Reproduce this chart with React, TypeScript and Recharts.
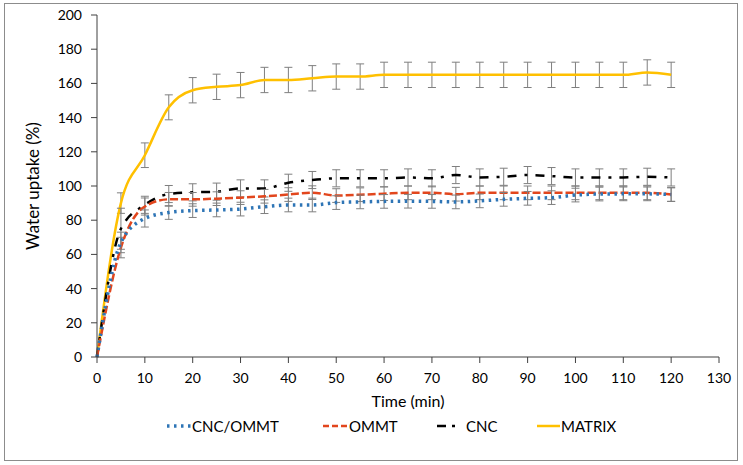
import React from "react";
import {
  LineChart,
  Line,
  XAxis,
  YAxis,
  ErrorBar,
  Legend,
  Label,
} from "recharts";

// Time points (min)
const time = [0, 5, 10, 15, 20, 25, 30, 35, 40, 45, 50, 55, 60, 65, 70, 75, 80, 85, 90, 95, 100, 105, 110, 115, 120];

// Water uptake (%) per sample
const cncOmmt = [0, 67, 81, 84.5, 85.6, 86, 86.5, 87.9, 88.9, 88.9, 90.3, 90.7, 91, 91.1, 91, 90.7, 91.3, 92.2, 92.8, 93.2, 94.7, 95.3, 95.4, 95.4, 95];
const ommt = [0, 64, 88, 92.2, 92.2, 92.6, 93.2, 94, 95, 96.1, 94.4, 94.9, 95.5, 96, 96, 95.2, 96, 96, 96, 96, 96, 96, 96, 96, 95];
const cnc = [0, 75, 89, 95.3, 96.3, 96.7, 98.6, 98.6, 101.9, 103.5, 104.5, 104.5, 104.5, 105, 104.5, 106.4, 105, 105.4, 106.4, 105.8, 105, 105, 105, 105.4, 105];
const matrix = [0, 90, 118, 146, 156, 158, 159, 162, 162, 163, 164, 164, 165, 165, 165, 165, 165, 165, 165, 165, 165, 165, 165, 166.4, 165];

// Standard deviations
const cncOmmtErr = [0, 6, 5, 4, 4, 4, 4, 4, 4, 4, 4, 4, 4, 4, 4, 4, 4, 4, 4, 4, 4, 4, 4, 4, 4];
const ommtErr = [0, 6, 5, 4, 4, 4, 4, 4, 4, 4, 4, 4, 4, 4, 4, 4, 4, 4, 4, 4, 4, 4, 4, 4, 4];
const cncErr = [0, 12, 5, 5, 5, 5, 5, 5, 5, 5, 5, 5, 5, 5, 5, 5, 5, 5, 5, 5, 5, 5, 5, 5, 5];
const matrixErr = [0, 6, 7.2, 7.3, 7.4, 7.4, 7.4, 7.4, 7.4, 7.4, 7.4, 7.4, 7.4, 7.4, 7.4, 7.4, 7.4, 7.4, 7.4, 7.4, 7.4, 7.4, 7.4, 7.4, 7.4];

const xTicks = [0, 10, 20, 30, 40, 50, 60, 70, 80, 90, 100, 110, 120, 130];
const yTicks = [0, 20, 40, 60, 80, 100, 120, 140, 160, 180, 200];

const data = time.map((t, i) => ({
  time: t,
  cncOmmt: cncOmmt[i],
  ommt: ommt[i],
  cnc: cnc[i],
  matrix: matrix[i],
  cncOmmtErr: cncOmmtErr[i],
  ommtErr: ommtErr[i],
  cncErr: cncErr[i],
  matrixErr: matrixErr[i],
}));

const FONT = "Lato, 'Open Sans', sans-serif";
const BLUE = "#2E75B6";
const RED = "#E2461D";
const BLACK = "#000000";
const GOLD = "#FFC000";
const ERR = "#7f7f7f";

// Legend with line samples matching the series strokes
const LegendContent = () => {
  const items = [
    { label: "CNC/OMMT", x: 167, w: 24, color: BLUE, dash: "2.5 4.5", width: 3.5 },
    { label: "OMMT", x: 323, w: 25, color: RED, dash: "6 3", width: 2.5 },
    { label: "CNC", x: 437, w: 24, color: BLACK, dash: "9 6 3 6", width: 2.5 },
    { label: "MATRIX", x: 537, w: 23, color: GOLD, dash: undefined, width: 2.5 },
  ];
  return (
    <div style={{ position: "relative", width: 743, height: 20 }}>
      {items.map((it) => (
        <div
          key={it.label}
          style={{
            position: "absolute",
            left: it.x,
            top: 0,
            display: "flex",
            alignItems: "center",
            fontFamily: FONT,
            fontSize: 15,
            color: "#000",
            whiteSpace: "nowrap",
          }}
        >
          <svg width={it.w} height={20} style={{ marginRight: it.label === "CNC" ? 5 : 1 }}>
            <line
              x1={0}
              y1={10}
              x2={it.w}
              y2={10}
              stroke={it.color}
              strokeWidth={it.width}
              strokeDasharray={it.dash}
            />
          </svg>
          <span>{it.label}</span>
        </div>
      ))}
    </div>
  );
};

export default function App() {
  return (
    <div style={{ position: "absolute", left: 0, top: 0, width: 743, height: 465, background: "#fff" }}>
      <div
        style={{
          position: "absolute",
          left: 4,
          top: 3,
          width: 732,
          height: 456,
          border: "1px solid #8c8c8c",
        }}
      />
      <LineChart
        width={743}
        height={465}
        data={data}
        margin={{ top: 15, right: 24, left: 37, bottom: 58 }}
      >
        <XAxis
          dataKey="time"
          type="number"
          domain={[0, 130]}
          ticks={xTicks}
          interval={0}
          height={50}
          stroke="#404040"
          tickSize={6}
          tickMargin={10}
          tick={{ fill: "#000", fontSize: 14, fontFamily: FONT }}
        >
          <Label
            value="Time (min)"
            position="insideBottom"
            offset={0}
            style={{ fill: "#000", fontSize: 16, fontFamily: FONT }}
          />
        </XAxis>
        <YAxis
          type="number"
          domain={[0, 200]}
          ticks={yTicks}
          interval={0}
          width={60}
          stroke="#404040"
          tickSize={6}
          tickMargin={9}
          tick={{ fill: "#000", fontSize: 14, fontFamily: FONT }}
        >
          <Label
            value="Water uptake (%)"
            angle={-90}
            position="insideLeft"
            offset={-4}
            style={{ fill: "#000", fontSize: 17, fontFamily: FONT, textAnchor: "middle" }}
          />
        </YAxis>
        <Legend
          verticalAlign="middle"
          content={<LegendContent />}
          wrapperStyle={{ left: 0, top: 416, width: 743 }}
        />

        <Line
          type="monotone"
          dataKey="matrix"
          stroke={GOLD}
          strokeWidth={2.5}
          dot={false}
          isAnimationActive={false}
        >
          <ErrorBar dataKey="matrixErr" direction="y" width={4} stroke={ERR} strokeWidth={1} />
        </Line>
        <Line
          type="monotone"
          dataKey="cnc"
          stroke={BLACK}
          strokeWidth={2.5}
          strokeDasharray="9 8 3 8"
          dot={false}
          isAnimationActive={false}
        >
          <ErrorBar dataKey="cncErr" direction="y" width={4} stroke={ERR} strokeWidth={1} />
        </Line>
        <Line
          type="monotone"
          dataKey="ommt"
          stroke={RED}
          strokeWidth={2.5}
          strokeDasharray="8 3"
          dot={false}
          isAnimationActive={false}
        >
          <ErrorBar dataKey="ommtErr" direction="y" width={4} stroke={ERR} strokeWidth={1} />
        </Line>
        <Line
          type="monotone"
          dataKey="cncOmmt"
          stroke={BLUE}
          strokeWidth={3.5}
          strokeDasharray="2.5 4.5"
          dot={false}
          isAnimationActive={false}
        >
          <ErrorBar dataKey="cncOmmtErr" direction="y" width={4} stroke={ERR} strokeWidth={1} />
        </Line>
      </LineChart>
    </div>
  );
}
